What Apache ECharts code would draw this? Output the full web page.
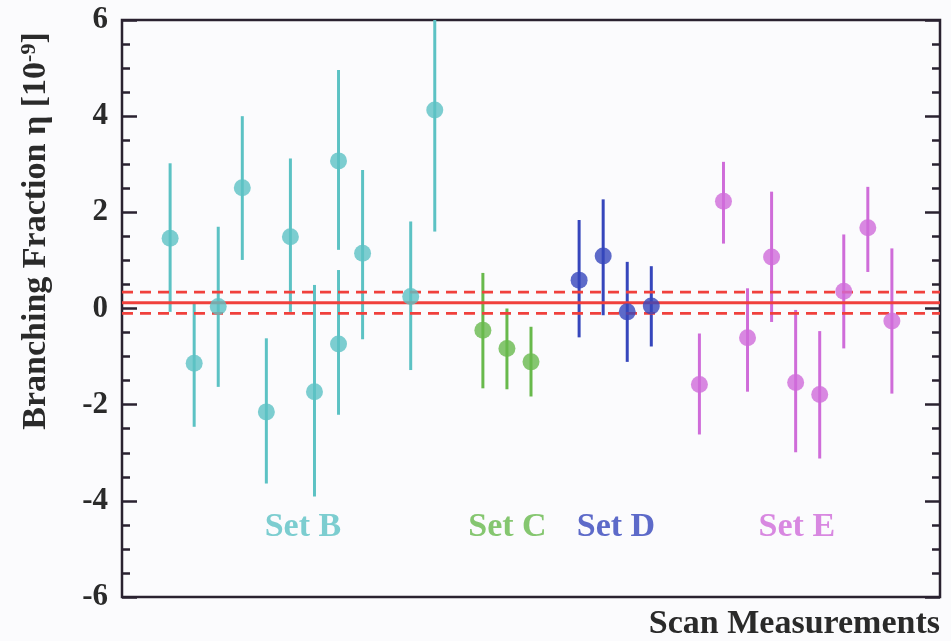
<!DOCTYPE html>
<html>
<head>
<meta charset="utf-8">
<script src="https://cdn.jsdelivr.net/npm/echarts@6/dist/echarts.min.js"></script>
<style>
  html, body { margin: 0; padding: 0; background: #fbfbfd; }
  #chart { width: 951px; height: 641px; }
</style>
</head>
<body>
<div id="chart"></div>
<script>
// Scan measurements: position along the scan, central value, upper and lower error limits
const setBPos = [1, 2, 3, 4, 5, 6, 7, 8, 8, 9, 11, 12];
const setBVal = [1.46, -1.14, 0.04, 2.51, -2.15, 1.49, -1.73, 3.07, -0.74, 1.15, 0.25, 4.13];
const setBHi  = [3.02, 0.12, 1.70, 4.00, -0.62, 3.12, 0.49, 4.96, 0.80, 2.88, 1.81, 6.66];
const setBLo  = [-0.07, -2.46, -1.63, 1.01, -3.64, -0.07, -3.91, 1.22, -2.21, -0.64, -1.28, 1.60];

const setCPos = [14, 15, 16];
const setCVal = [-0.45, -0.83, -1.11];
const setCHi  = [0.74, 0.00, -0.38];
const setCLo  = [-1.66, -1.68, -1.83];

const setDPos = [18, 19, 20, 21];
const setDVal = [0.59, 1.09, -0.07, 0.05];
const setDHi  = [1.84, 2.27, 0.97, 0.88];
const setDLo  = [-0.60, -0.14, -1.11, -0.79];

const setEPos = [23, 24, 25, 26, 27, 28, 29, 30, 31];
const setEVal = [-1.58, 2.23, -0.61, 1.07, -1.54, -1.79, 0.36, 1.68, -0.26];
const setEHi  = [-0.52, 3.05, 0.42, 2.43, -0.03, -0.47, 1.54, 2.53, 1.25];
const setELo  = [-2.62, 1.35, -1.73, -0.28, -2.99, -3.12, -0.83, 0.76, -1.77];

// Combined result with its uncertainty band
const combinedMean = 0.12;
const combinedHi = 0.34;
const combinedLo = -0.10;

// Set names and where they sit on the plot
const setNames = ['Set B', 'Set C', 'Set D', 'Set E'];
const setLabelX = [6.52, 15.02, 19.53, 27.05];
const setLabelY = -4.54;

const xRange = [-1, 33];
const yTicks = ['-6', '-4', '-2', '0', '2', '4', '6'];

const colors = ['#5cc2c4', '#68b94c', '#3646bc', '#cf6cd9'];
const serif = '"Liberation Serif", "Times New Roman", serif';
const frameColor = '#2a2230';

const sets = [
  { pos: setBPos, val: setBVal, hi: setBHi, lo: setBLo },
  { pos: setCPos, val: setCVal, hi: setCHi, lo: setCLo },
  { pos: setDPos, val: setDVal, hi: setDHi, lo: setDLo },
  { pos: setEPos, val: setEVal, hi: setEHi, lo: setELo }
];

const series = [];

// Vertical error bars
sets.forEach((s, i) => {
  series.push({
    type: 'custom',
    clip: true,
    z: 2,
    data: s.pos.map((p, k) => [p, s.val[k], s.lo[k], s.hi[k]]),
    encode: { x: 0, y: [2, 3] },
    renderItem: function (params, api) {
      const a = api.coord([api.value(0), api.value(2)]);
      const b = api.coord([api.value(0), api.value(3)]);
      return {
        type: 'line',
        shape: { x1: a[0], y1: a[1], x2: b[0], y2: b[1] },
        style: { stroke: colors[i], lineWidth: 3 }
      };
    }
  });
});

// Combined value and its band
function hLine(y, dashed) {
  return {
    type: 'line',
    z: 3,
    symbol: 'none',
    silent: true,
    data: [[xRange[0], y], [xRange[1], y]],
    lineStyle: { color: '#f0403c', width: 2.8, type: dashed ? [11, 7] : 'solid' }
  };
}
series.push(hLine(combinedMean, false));
series.push(hLine(combinedHi, true));
series.push(hLine(combinedLo, true));

// Central values
sets.forEach((s, i) => {
  series.push({
    type: 'scatter',
    z: 4,
    symbol: 'circle',
    symbolSize: 17,
    itemStyle: { color: colors[i] },
    data: s.pos.map((p, k) => [p, s.val[k]])
  });
});

// Set names
series.push({
  type: 'scatter',
  z: 5,
  symbolSize: 0,
  silent: true,
  data: setNames.map((n, i) => ({
    value: [setLabelX[i], setLabelY],
    label: {
      show: true,
      position: 'inside',
      formatter: n,
      color: colors[i],
      fontFamily: serif,
      fontWeight: 'bold',
      fontSize: 34
    }
  }))
});

const yAxisCommon = {
  type: 'value',
  min: -6,
  max: 6,
  interval: 2,
  axisLine: { show: false, onZero: false },
  splitLine: { show: false },
  axisTick: { show: true, inside: true, length: 15, lineStyle: { color: frameColor, width: 2.5 } },
  minorTick: { show: true, splitNumber: 4, length: 8, lineStyle: { color: frameColor, width: 2.5 } },
  minorSplitLine: { show: false }
};

const chart = echarts.init(document.getElementById('chart'), null, { renderer: 'canvas' });
chart.setOption({
  backgroundColor: '#fbfbfd',
  animation: false,
  grid: {
    left: 122, right: 11, top: 20, bottom: 44,
    show: true, borderColor: frameColor, borderWidth: 2.5,
    backgroundColor: 'transparent'
  },
  xAxis: {
    type: 'value',
    min: xRange[0],
    max: xRange[1],
    axisLine: { show: false, onZero: false },
    axisTick: { show: false },
    axisLabel: { show: false },
    splitLine: { show: false }
  },
  yAxis: [
    Object.assign({}, yAxisCommon, {
      position: 'left',
      axisLabel: {
        show: true,
        margin: 14,
        color: '#2a2a2a',
        fontFamily: serif,
        fontWeight: 'bold',
        fontSize: 31,
        formatter: function (v) { return yTicks[Math.round((v + 6) / 2)]; }
      }
    }),
    Object.assign({}, yAxisCommon, {
      position: 'right',
      axisLabel: { show: false }
    })
  ],
  graphic: [
    {
      type: 'text',
      x: 36,
      y: 231,
      rotation: Math.PI / 2,
      style: {
        text: 'Branching Fraction η [10{sup|-9}]',
        fill: '#2a2a2a',
        font: 'bold 34px ' + serif,
        align: 'center',
        verticalAlign: 'middle',
        rich: {
          sup: { fontFamily: serif, fontWeight: 'bold', fontSize: 22, verticalAlign: 'top', padding: [0, 0, 14, 0] }
        }
      }
    },
    {
      type: 'text',
      x: 940,
      y: 624,
      style: {
        text: 'Scan Measurements',
        fill: '#2a2a2a',
        font: 'bold 34px ' + serif,
        align: 'right',
        verticalAlign: 'middle'
      }
    }
  ],
  series: series
});
</script>
</body>
</html>
